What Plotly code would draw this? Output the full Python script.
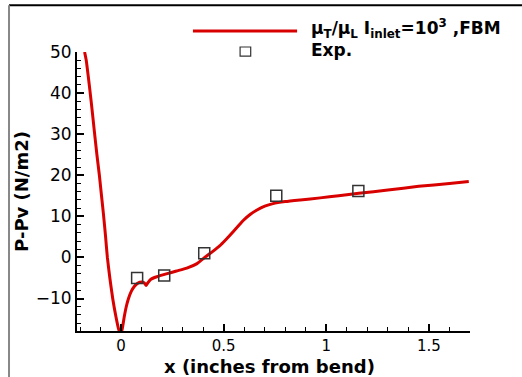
import plotly.graph_objects as go

# FBM prediction along the bend
x_fbm = [-0.178, -0.17, -0.16, -0.146, -0.13, -0.118, -0.106, -0.096, -0.086, -0.076,
         -0.067, -0.055, -0.041, -0.025, -0.012, -0.003, 0.005, 0.015, 0.025, 0.036,
         0.05, 0.065, 0.08, 0.1, 0.113, 0.122, 0.13, 0.145, 0.174, 0.22,
         0.27, 0.32, 0.37, 0.41, 0.45, 0.48, 0.51, 0.547, 0.575, 0.595,
         0.63, 0.66, 0.70, 0.74, 0.80, 0.873, 0.97, 1.06, 1.158, 1.3,
         1.45, 1.6, 1.694]
y_fbm = [50.0, 48.0, 44.0, 38.0, 30.5, 25.0, 20.0, 15.2, 10.5, 5.2,
         0.0, -5.0, -10.0, -14.5, -17.5, -18.6, -17.5, -14.5, -12.0, -10.0,
         -8.2, -7.0, -6.3, -6.0, -6.2, -6.8, -6.2, -5.3, -4.7, -4.0,
         -3.3, -2.6, -1.5, 0.1, 1.6, 2.8, 4.3, 6.3, 7.9, 9.0,
         10.5, 11.5, 12.5, 13.1, 13.6, 14.0, 14.5, 15.0, 15.6, 16.4,
         17.3, 18.0, 18.5]

# Experimental measurements
x_exp = [0.078, 0.21, 0.405, 0.756, 1.156]
y_exp = [-5.0, -4.4, 1.0, 15.0, 16.2]

x_ticks = [0, 0.5, 1, 1.5]
x_tick_text = ["0", "0.5", "1", "1.5"]
y_ticks = [-10, 0, 10, 20, 30, 40, 50]

red = "#d90000"
font = "DejaVu Sans, Verdana, sans-serif"

fig = go.Figure()
fig.add_trace(go.Scatter(x=x_fbm, y=y_fbm, mode="lines",
                         line=dict(color=red, width=3, shape="spline", smoothing=0.5),
                         showlegend=False))
fig.add_trace(go.Scatter(x=x_exp, y=y_exp, mode="markers",
                         marker=dict(symbol="square-open", size=11,
                                     color="#333333", line=dict(width=1.5)),
                         showlegend=False))

fig.update_layout(
    width=522, height=377,
    margin=dict(l=77, r=52, t=52, b=46),
    paper_bgcolor="white", plot_bgcolor="white",
    font=dict(family=font, color="black", size=17),
    xaxis=dict(range=[-0.215, 1.7], tickvals=x_ticks, ticktext=x_tick_text,
               ticks="inside", ticklen=7, tickwidth=1.5, tickcolor="black",
               minor=dict(dtick=0.1, tick0=0, ticks="inside", ticklen=4, tickcolor="black", tickwidth=1),
               showline=True, linecolor="black", linewidth=2, showgrid=False, zeroline=False,
               tickfont=dict(size=15), automargin=False),
    yaxis=dict(range=[-17.9, 50], tickvals=y_ticks,
               ticks="inside", ticklen=7, tickwidth=1.5, tickcolor="black",
               minor=dict(dtick=2, tick0=0, ticks="inside", ticklen=4, tickcolor="black", tickwidth=1),
               showline=True, linecolor="black", linewidth=2, showgrid=False, zeroline=False,
               tickfont=dict(size=17), automargin=False,
               title=dict(text="<b>P-Pv (N/m2)</b>", font=dict(size=18), standoff=2)),
)

# x-axis title
fig.add_annotation(xref="paper", yref="paper", x=0.49, y=-0.128, xanchor="center", yanchor="middle",
                   text="<b>x (inches from bend)</b>", showarrow=False,
                   font=dict(size=18, family=font))

# Outer frame (top and left edges)
fig.add_shape(type="line", xref="paper", yref="paper", x0=-0.173, x1=1.14, y0=1.168, y1=1.168,
              line=dict(color="black", width=2))
fig.add_shape(type="line", xref="paper", yref="paper", x0=-0.173, x1=-0.173, y0=-0.17, y1=1.168,
              line=dict(color="#888888", width=2))

# Legend
fig.add_shape(type="line", xref="paper", yref="paper", x0=0.295, x1=0.56, y0=1.075, y1=1.075,
              line=dict(color=red, width=3))
fig.add_shape(type="rect", xref="paper", yref="paper", x0=0.415, x1=0.442, y0=0.985, y1=1.018,
              line=dict(color="#333333", width=1.2))
fig.add_annotation(xref="paper", yref="paper", x=0.59, y=1.083, xanchor="left", yanchor="middle",
                   text="<b>μ<sub>T</sub>/μ<sub>L</sub> I<sub>inlet</sub>=10<sup>3</sup> ,FBM</b>",
                   showarrow=False, font=dict(size=17, family=font))
fig.add_annotation(xref="paper", yref="paper", x=0.59, y=1.008, xanchor="left", yanchor="middle",
                   text="<b>Exp.</b>", showarrow=False, font=dict(size=17, family=font))

fig.write_html("out.html")
